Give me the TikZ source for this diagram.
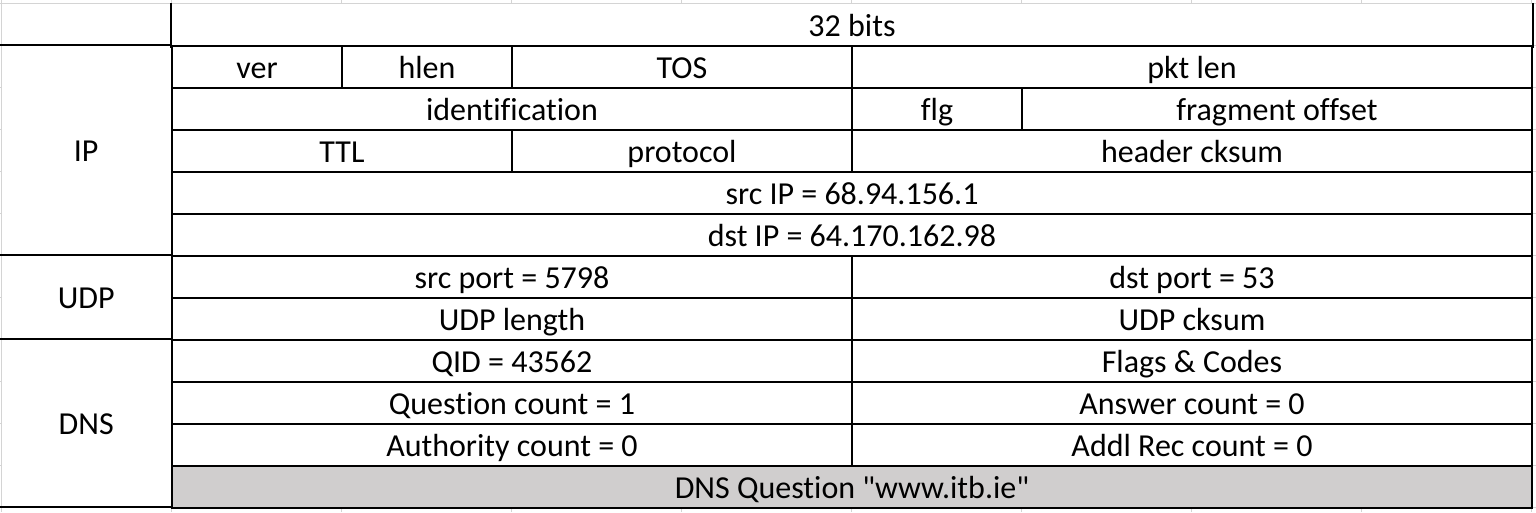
\documentclass[tikz,border=0pt]{standalone}
\usepackage{fontspec}
\newfontfamily\cellfont{Carlito}[Ligatures=NoCommon]
\usetikzlibrary{positioning}

\definecolor{gridgray}{HTML}{D4D4D4}
\definecolor{qgray}{HTML}{D0CECE}

\begin{document}
\begin{tikzpicture}[x=1pt, y=-1pt,
    grid/.style={draw=gridgray, line width=1pt},
    rule/.style={draw=black, line width=2pt},
    cell/.style={
        rectangle, draw=black, line width=2pt, fill=white,
        anchor=north west, inner sep=0pt,
        minimum width=#1pt, minimum height=42pt,
        text height=25pt, text depth=3pt,
        font=\cellfont\fontsize{32}{38}\selectfont
    },
    layercell/.style={
        rectangle, fill=white,
        anchor=north west, inner sep=0pt,
        minimum width=170pt, minimum height=#1pt,
        text height=25pt, text depth=3pt,
        font=\cellfont\fontsize{32}{38}\selectfont
    }
]
    \useasboundingbox (0,0) rectangle (1536,512);
    % spreadsheet grid
    \foreach \x in {1,171,...,1531} \draw[grid] (\x,0) -- (\x,512);
    \foreach \y in {3,45,...,507} \draw[grid] (0,\y) -- (1536,\y);

    % layer names
    \node[layercell=42] (corner) at (1,3) {};
    \node[layercell=210] (ip) at (1,45) {IP};
    \node[layercell=84] (udp) at (1,255) {UDP};
    \node[layercell=168] (dns) at (1,339) {DNS};
    \draw[grid] (0,3) -- (corner.north east);
    \draw[grid] (corner.north west) -- (dns.south west);

    % header
    \node[cell=1360, draw=none] (bits) at (171,3) {32 bits};
    \draw[rule] (bits.north west) -- (bits.south west) -- (bits.south east) -- (bits.north east);

    % IP header
    \node[cell=170] (ver) at (171,45) {ver};
    \node[cell=170] (hlen) at (341,45) {hlen};
    \node[cell=340] (tos) at (511,45) {TOS};
    \node[cell=680] (pktlen) at (851,45) {pkt len};
    \node[cell=680] (ident) at (171,87) {identification};
    \node[cell=170] (flg) at (851,87) {flg};
    \node[cell=510] (fragoff) at (1021,87) {fragment offset};
    \node[cell=340] (ttl) at (171,129) {TTL};
    \node[cell=340] (proto) at (511,129) {protocol};
    \node[cell=680] (hcksum) at (851,129) {header cksum};
    \node[cell=1360] (srcip) at (171,171) {src IP = 68.94.156.1};
    \node[cell=1360] (dstip) at (171,213) {dst IP = 64.170.162.98};

    % UDP header
    \node[cell=680] (srcport) at (171,255) {src port = 5798};
    \node[cell=680] (dstport) at (851,255) {dst port = 53};
    \node[cell=680] (udplen) at (171,297) {UDP length};
    \node[cell=680] (udpcksum) at (851,297) {UDP cksum};

    % DNS message
    \node[cell=680] (qid) at (171,339) {QID = 43562};
    \node[cell=680] (flags) at (851,339) {Flags \& Codes};
    \node[cell=680] (qcount) at (171,381) {Question count = 1};
    \node[cell=680] (acount) at (851,381) {Answer count = 0};
    \node[cell=680] (authcount) at (171,423) {Authority count = 0};
    \node[cell=680] (addlcount) at (851,423) {Addl Rec count = 0};
    \node[cell=1360, fill=qgray] (question) at (171,465) {DNS Question "www.itb.ie"};

    % rules between the layers
    \draw[rule] ([xshift=-1pt]corner.south west) -- (corner.south east);
    \draw[rule] ([xshift=-1pt]ip.south west) -- (ip.south east);
    \draw[rule] ([xshift=-1pt]udp.south west) -- (udp.south east);
    \draw[rule] ([xshift=-1pt]dns.south west) -- (dns.south east);
\end{tikzpicture}
\end{document}
